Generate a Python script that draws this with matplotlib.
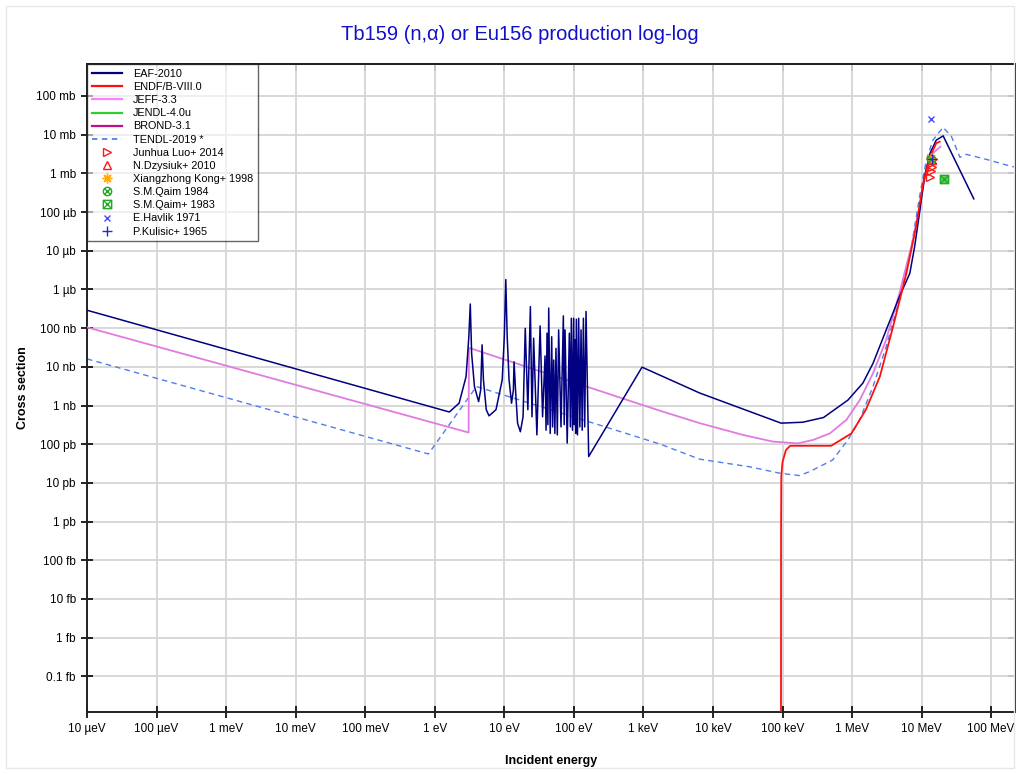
import matplotlib
matplotlib.use('Agg')
import matplotlib.pyplot as plt
from matplotlib import font_manager
from matplotlib.path import Path
from matplotlib.patches import Rectangle
from matplotlib.lines import Line2D

# ---------------- data (energy in eV, cross section in barn) ----------------
eaf_e = [1e-5, 1.62, 2.24, 2.82, 3.09, 3.24, 3.39, 3.72, 4.27, 4.57, 4.79, 5.01, 5.50,
         6.03, 7.59, 9.33, 10.0, 10.5, 11.0, 11.7, 12.7, 13.5, 13.8, 14.5, 15.5, 17.0, 18.6,
         20.0, 21.8, 23.7, 25.0, 26.4, 29.4, 32.7, 35.5, 38.5, 39.8, 41.1, 42.3, 43.5, 45.7,
         48.0, 49.5, 51.3, 53.3, 55.3, 57.8, 60.4, 65.3, 70.6, 72.6, 74.6, 80.2, 86.1, 89.1,
         92.0, 95.5, 99.3, 101.6, 104.0, 106.4, 108.6, 112.7, 117.2, 121.9, 126.8, 131.8,
         137.1, 143.2, 149.6, 163.3, 955.0, 6457.0, 9.55e4, 1.95e5, 3.89e5, 8.71e5, 1.43e6,
         2.0e6, 3.09e6, 4.79e6, 6.76e6, 7.94e6, 9.33e6, 1.10e7, 1.32e7, 1.62e7, 2.04e7, 5.62e7]
eaf_s = [2.9e-7, 6.8e-10, 1.15e-9, 5.6e-9, 6.0e-8, 4.2e-7, 2.2e-8, 3.1e-9, 1.26e-9, 2.5e-9,
         3.7e-8, 4.6e-9, 7.8e-10, 5.4e-10, 7.8e-10, 4.6e-9, 6.0e-8, 1.8e-6, 6.0e-8, 4.6e-9,
         1.15e-9, 2.5e-9, 1.35e-8, 2.5e-9, 3.5e-10, 2.1e-10, 5.1e-10,
         9.9e-8, 7.8e-10, 3.6e-7, 5.1e-10, 5.5e-8, 1.74e-10, 1.14e-7, 5.1e-10, 1.91e-8, 2.3e-10,
         7.4e-8, 3.2e-10, 3.3e-7, 1.9e-10, 6.0e-8, 2.8e-10, 1.5e-8, 1.9e-10, 3.0e-8, 1.74e-10,
         9.0e-8, 2.8e-10, 2.07e-7, 3.2e-10, 9.0e-8, 1.07e-10, 7.4e-8, 2.8e-10, 1.8e-7, 2.3e-10,
         1.8e-7, 3.2e-10, 5.0e-8, 1.9e-10, 1.7e-7, 1.74e-10, 1.8e-7, 2.8e-10, 9.0e-8, 2.3e-10,
         1.8e-7, 2.8e-10, 2.7e-7, 4.8e-11, 9.8e-9, 2.1e-9, 3.5e-10, 3.7e-10, 4.9e-10, 1.38e-9,
         3.8e-9, 1.23e-8, 8.9e-8, 6.5e-7, 2.6e-6, 1.29e-5, 9.5e-5, 8.3e-4, 3.3e-3, 7.2e-3,
         9.3e-3, 2.2e-4]

endf_e = [9.50e4, 9.52e4, 9.6e4, 1.0e5, 1.12e5, 1.29e5, 5.0e5, 9.77e5, 1.58e6, 2.51e6,
          3.89e6, 6.03e6, 8.32e6, 1.05e7, 1.32e7, 1.62e7, 1.82e7]
endf_s = [1e-19, 5e-13, 1.5e-11, 3.5e-11, 7.1e-11, 9.1e-11, 9.1e-11, 1.9e-10, 7.8e-10,
          5.6e-9, 1.1e-7, 2.6e-6, 4.2e-5, 5.5e-4, 2.7e-3, 6.0e-3, 6.6e-3]

jeff_e = [1e-5, 3.07, 3.10, 1700.0, 6457.0, 2.69e4, 7.24e4, 1.66e5, 2.75e5, 4.79e5, 8.32e5,
          1.29e6, 2.0e6, 3.09e6, 4.79e6, 7.5e6, 9.33e6, 1.17e7, 1.45e7, 1.86e7]
jeff_s = [1.05e-7, 2.0e-10, 3.1e-8, 7.4e-10, 3.5e-10, 1.74e-10, 1.17e-10, 1.05e-10, 1.29e-10,
          1.9e-10, 4.3e-10, 1.38e-9, 6.8e-9, 5.0e-8, 7.9e-7, 1.9e-5, 1.38e-4, 1.23e-3, 3.3e-3,
          4.9e-3]

jendl_e, jendl_s = [], []
brond_e, brond_s = [], []

tendl_e = [1e-5, 0.81, 3.98, 1700.0, 6457.0, 3.39e4, 9.12e4, 1.74e5, 2.45e5, 5.25e5, 8.71e5,
           1.29e6, 2.0e6, 3.09e6, 4.79e6, 6.76e6, 9.33e6, 1.17e7, 1.45e7, 2.04e7, 2.69e7,
           3.55e7, 4.37e7, 8.51e7, 1.86e8, 2.2e8]
tendl_s = [1.6e-8, 5.6e-11, 3.1e-9, 1.02e-10, 4.1e-11, 2.6e-11, 1.78e-11, 1.55e-11, 1.95e-11,
           3.9e-11, 1.29e-10, 4.3e-10, 3.1e-9, 3.3e-8, 5.4e-7, 7.1e-6, 2.5e-4, 2.24e-3, 7.2e-3,
           1.55e-2, 8.9e-3, 2.6e-3, 3.1e-3, 2.3e-3, 1.55e-3, 1.45e-3]

luo_e = [1.34e7, 1.37e7, 1.39e7, 1.41e7, 1.45e7]
luo_s = [7.9e-4, 1.13e-3, 1.44e-3, 1.86e-3, 2.4e-3]
dzysiuk_e, dzysiuk_s = [1.39e7], [2.2e-3]
kong_e, kong_s = [1.36e7], [2.5e-3]
qaim84_e, qaim84_s = [1.37e7], [2.3e-3]
qaim83_e, qaim83_s = [2.1e7], [7.2e-4]
havlik_e, havlik_s = [1.38e7], [2.6e-2]
kulisic_e, kulisic_s = [1.40e7], [2.4e-3]

xtick_vals = [1e-5, 1e-4, 1e-3, 1e-2, 1e-1, 1, 10, 100, 1e3, 1e4, 1e5, 1e6, 1e7, 1e8]
xtick_labels = ['10 µeV', '100 µeV', '1 meV', '10 meV', '100 meV', '1 eV', '10 eV', '100 eV',
                '1 keV', '10 keV', '100 keV', '1 MeV', '10 MeV', '100 MeV']
ytick_vals = [1e-1, 1e-2, 1e-3, 1e-4, 1e-5, 1e-6, 1e-7, 1e-8, 1e-9, 1e-10, 1e-11, 1e-12,
              1e-13, 1e-14, 1e-15, 1e-16]
ytick_labels = ['100 mb', '10 mb', '1 mb', '100 µb', '10 µb', '1 µb', '100 nb', '10 nb',
                '1 nb', '100 pb', '10 pb', '1 pb', '100 fb', '10 fb', '1 fb', '0.1 fb']

# ---------------- styling ----------------
names = {f.name for f in font_manager.fontManager.ttflist}
narrow = 'Liberation Sans Narrow' if 'Liberation Sans Narrow' in names else 'Liberation Sans'
plt.rcParams['font.family'] = ['Liberation Sans', 'DejaVu Sans']

fig = plt.figure(figsize=(10.2, 7.74), dpi=100)
fig.patches.append(Rectangle((6 / 1020, 6 / 774), 1008 / 1020, 762 / 774, transform=fig.transFigure,
                             fill=False, edgecolor='#e8e8e8', lw=1))
ax = fig.add_axes([87 / 1020, 1 - 712 / 774, (1015 - 87) / 1020, (712 - 64) / 774])
ax.set_xscale('log')
ax.set_yscale('log')
ax.set_xlim(1e-5, 2.2e8)
ax.set_ylim(1.2e-17, 0.67)

ax.plot(tendl_e, tendl_s, color='#4f7fe8', lw=1.0, ls=(0, (4, 3)), zorder=2)
ax.plot(brond_e, brond_s, color='#c0108f', lw=1.3, zorder=3)
ax.plot(jeff_e, jeff_s, color='#e07ce0', lw=1.3, zorder=3)
ax.plot(jendl_e, jendl_s, color='#33cc33', lw=1.3, zorder=3)
ax.plot(eaf_e, eaf_s, color='#000080', lw=1.1, zorder=4)
ax.plot(endf_e, endf_s, color='#ff1010', lw=1.3, zorder=5)

circ_x = Path.make_compound_path(
    Path.unit_circle(),
    Path([(-0.7, -0.7), (0.7, 0.7)], [Path.MOVETO, Path.LINETO]),
    Path([(-0.7, 0.7), (0.7, -0.7)], [Path.MOVETO, Path.LINETO]))
box_x = Path.make_compound_path(
    Path([(-1, -1), (1, -1), (1, 1), (-1, 1), (-1, -1)],
         [Path.MOVETO, Path.LINETO, Path.LINETO, Path.LINETO, Path.CLOSEPOLY]),
    Path([(-1, -1), (1, 1)], [Path.MOVETO, Path.LINETO]),
    Path([(-1, 1), (1, -1)], [Path.MOVETO, Path.LINETO]))

ms = 6
ax.plot(luo_e, luo_s, ls='none', marker='>', mfc='none', mec='#ff1a1a', ms=ms, mew=1, zorder=6)
ax.plot(dzysiuk_e, dzysiuk_s, ls='none', marker='^', mfc='none', mec='#ff1a1a', ms=ms, mew=1, zorder=6)
ax.plot(kong_e, kong_s, ls='none', marker=(8, 2, 0), mec='#ffaa11', ms=ms + 1, mew=1, zorder=6)
ax.plot(qaim84_e, qaim84_s, ls='none', marker=circ_x, mfc='none', mec='#22aa22', ms=ms, mew=1, zorder=6)
ax.plot(qaim83_e, qaim83_s, ls='none', marker=box_x, mfc='#66cc66', mec='#22aa22', ms=ms, mew=1, zorder=6)
ax.plot(havlik_e, havlik_s, ls='none', marker='x', mec='#4a4aff', ms=ms - 1, mew=1, zorder=6)
ax.plot(kulisic_e, kulisic_s, ls='none', marker='+', mec='#2a2acc', ms=ms + 1, mew=1, zorder=6)

ax.set_xticks(xtick_vals)
ax.set_xticklabels(xtick_labels, fontfamily=narrow, fontsize=8.5)
ax.set_yticks(ytick_vals)
ax.set_yticklabels(ytick_labels, fontfamily=narrow, fontsize=8.5)
ax.minorticks_off()
ax.tick_params(axis='both', which='major', direction='inout', length=8, width=1.2,
               top=False, right=False, pad=4)
ax.grid(True, which='major', color='#d6d6d6', lw=1.3)
ax.set_axisbelow(True)
for sp in ax.spines.values():
    sp.set_linewidth(1.4)
    sp.set_color('#222222')

secx = ax.secondary_xaxis('top')
secx.set_xticks(xtick_vals)
secx.set_xticklabels([])
secx.minorticks_off()
secx.tick_params(direction='in', length=5, width=1.2)
secx.spines['top'].set_linewidth(1.4)
secy = ax.secondary_yaxis('right')
secy.set_yticks(ytick_vals)
secy.set_yticklabels([])
secy.minorticks_off()
secy.tick_params(direction='in', length=5, width=1.2)
secy.spines['right'].set_linewidth(1.4)

ax.set_xlabel('Incident energy', fontsize=9, fontweight='bold', labelpad=14)
ax.set_ylabel('Cross section', fontsize=9, fontweight='bold', labelpad=5)
fig.text(520 / 1020, 1 - 35 / 774, 'Tb159 (n,α) or Eu156 production log-log', ha='center',
         va='center', fontsize=14.5, color='#1010cc')

handles = [
    Line2D([], [], color='#000080', lw=1.6),
    Line2D([], [], color='#ff1010', lw=1.6),
    Line2D([], [], color='#ff80ff', lw=1.6),
    Line2D([], [], color='#33cc33', lw=1.6),
    Line2D([], [], color='#c0108f', lw=1.6),
    Line2D([], [], color='#4f7fe8', lw=1.3, ls=(0, (3, 2.5))),
    Line2D([], [], ls='none', marker='>', mfc='none', mec='#ff1a1a', ms=ms, mew=1),
    Line2D([], [], ls='none', marker='^', mfc='none', mec='#ff1a1a', ms=ms, mew=1),
    Line2D([], [], ls='none', marker=(8, 2, 0), mec='#ffaa11', ms=ms + 1, mew=1),
    Line2D([], [], ls='none', marker=circ_x, mfc='none', mec='#22aa22', ms=ms, mew=1),
    Line2D([], [], ls='none', marker=box_x, mfc='none', mec='#22aa22', ms=ms, mew=1),
    Line2D([], [], ls='none', marker='x', mec='#4a4aff', ms=ms - 1, mew=1),
    Line2D([], [], ls='none', marker='+', mec='#2a2acc', ms=ms + 1, mew=1),
]
labels = ['EAF-2010', 'ENDF/B-VIII.0', 'JEFF-3.3', 'JENDL-4.0u', 'BROND-3.1', 'TENDL-2019 *',
          'Junhua Luo+ 2014', 'N.Dzysiuk+ 2010', 'Xiangzhong Kong+ 1998', 'S.M.Qaim 1984',
          'S.M.Qaim+ 1983', 'E.Havlik 1971', 'P.Kulisic+ 1965']
leg = ax.legend(handles, labels, loc='upper left', bbox_to_anchor=(0, 1), borderaxespad=0,
                fontsize=7.8, frameon=True, fancybox=False, edgecolor='black', framealpha=0.6,
                handlelength=2.8, handletextpad=1.0, labelspacing=0.29, borderpad=0.45)
leg.get_frame().set_linewidth(1.0)
leg.set_zorder(10)

fig.savefig('out.png', dpi=100)
